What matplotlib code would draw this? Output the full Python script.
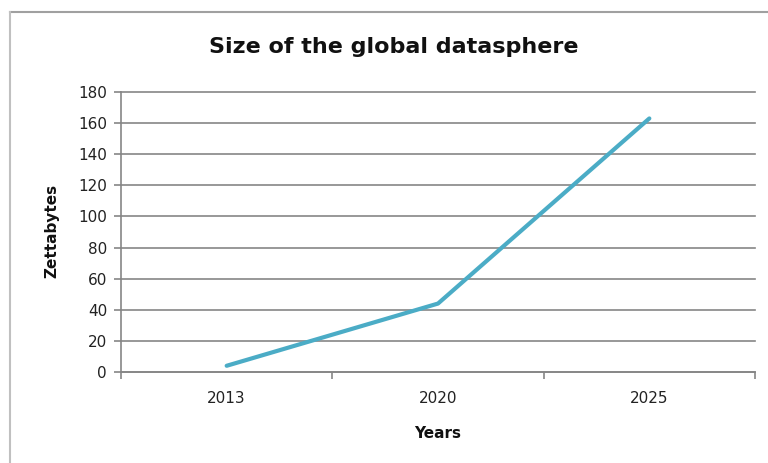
import matplotlib.pyplot as plt
from matplotlib.lines import Line2D

# Data
years = ["2013", "2020", "2025"]
zettabytes = [4, 44, 163]
y_ticks = [0, 20, 40, 60, 80, 100, 120, 140, 160, 180]

plt.rcParams['font.family'] = ['DejaVu Sans']

fig = plt.figure(figsize=(7.68, 4.63), dpi=100)
ax = fig.add_axes([121 / 768, 1 - 372 / 463, (755 - 121) / 768, (372 - 92) / 463])

x = list(range(len(years)))
ax.plot(x, zettabytes, color='#4BACC6', linewidth=3, solid_capstyle='round')

# Excel-style category axis: labels at centres, tick marks between categories
ax.set_xlim(-0.5, len(years) - 0.5)
ax.set_xticks(x)
ax.set_xticklabels(years, fontsize=11, color='#222222')
ax.tick_params(axis='x', which='major', length=0, pad=14)
ax.set_xticks([i - 0.5 for i in range(len(years) + 1)], minor=True)
ax.tick_params(axis='x', which='minor', length=5, direction='out', color='#868686', width=1.2)

ax.set_ylim(0, 180)
ax.set_yticks(y_ticks)
ax.tick_params(axis='y', length=5, direction='out', color='#868686', width=1.2,
               labelsize=11, labelcolor='#222222', pad=5)
ax.grid(axis='y', color='#868686', linewidth=1.2)
for gl in ax.get_ygridlines():
    gl.set_clip_on(False)
ax.set_axisbelow(True)

for side in ['top', 'right']:
    ax.spines[side].set_visible(False)
for side in ['left', 'bottom']:
    ax.spines[side].set_color('#868686')
    ax.spines[side].set_linewidth(1.2)

fig.text(394 / 768, 1 - 47 / 463, "Size of the global datasphere", ha='center', va='center',
         fontsize=16, fontweight='bold', color='#111111')
fig.text(52 / 768, 1 - 231 / 463, "Zettabytes", ha='center', va='center', rotation=90,
         fontsize=11, fontweight='bold', color='#111111')
fig.text(438 / 768, 1 - 433 / 463, "Years", ha='center', va='center',
         fontsize=11, fontweight='bold', color='#111111')

# chart frame
fig.add_artist(Line2D([10 / 768, 1.0], [1 - 12 / 463, 1 - 12 / 463], transform=fig.transFigure,
                      color='#A0A0A0', linewidth=1.5))
fig.add_artist(Line2D([10 / 768, 10 / 768], [0, 1 - 12 / 463], transform=fig.transFigure,
                      color='#C0C0C0', linewidth=1.5))

fig.savefig("out.png", dpi=100)
